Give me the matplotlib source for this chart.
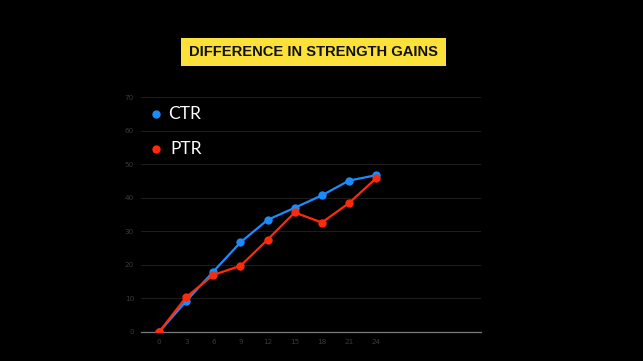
import matplotlib
matplotlib.use('Agg')
import matplotlib.pyplot as plt
from matplotlib.lines import Line2D
from matplotlib.patches import Rectangle

weeks = [0, 3, 6, 9, 12, 15, 18, 21, 24]
ctr = [0, 9.2, 18.0, 26.7, 33.4, 37.0, 40.7, 45.1, 46.7]
ptr = [0, 10.4, 17.0, 19.7, 27.5, 35.6, 32.6, 38.4, 45.8]
series_names = ['CTR', 'PTR']
title = 'DIFFERENCE IN STRENGTH GAINS'

blue = '#1a8cff'
red = '#ff2a0a'

fig = plt.figure(figsize=(6.43, 3.61), dpi=100, facecolor='black')
ax = fig.add_axes([141/643, 1-332/361, (481-141)/643, (332-97)/361])
ax.set_facecolor('black')

ax.plot(weeks, ctr, '-o', color=blue, lw=1.6, ms=5, zorder=3)
ax.plot(weeks, ptr, '-o', color=red, lw=1.6, ms=5, zorder=4)

ax.set_xlim(-2, 35.6)
ax.set_ylim(0, 70)
ax.set_xticks(weeks)
ax.set_yticks(range(0, 71, 10))
ax.yaxis.grid(True, color='#1c1c1c', lw=0.8)
ax.set_axisbelow(True)
for s in ['top', 'right', 'left']:
    ax.spines[s].set_visible(False)
ax.spines['bottom'].set_color('#7a7a7a')
ax.spines['bottom'].set_linewidth(0.9)
ax.tick_params(length=0, labelsize=5.2, colors='#3a3a3a', pad=5)

# legend drawn as dots + labels
fig.add_artist(Line2D([156/643], [1-114/361], marker='o', color=blue, ms=5, ls=''))
fig.add_artist(Line2D([156/643], [1-149/361], marker='o', color=red, ms=5, ls=''))
fig.text(168/643, 1-114/361, series_names[0], color='white', fontsize=12.5,
         family='Lato', va='center', ha='left')
fig.text(170/643, 1-149/361, series_names[1], color='white', fontsize=12.5,
         family='Lato', va='center', ha='left')

# title box
fig.add_artist(Rectangle((181/643, 1-66/361), (446-181)/643, 28/361,
                         transform=fig.transFigure, facecolor='#fde13b', edgecolor='none'))
fig.text(313.5/643, 1-52.5/361, title, color='#111111', fontsize=10.6, fontweight='bold',
         family='Liberation Sans', ha='center', va='center')

fig.savefig('out.png', dpi=100, facecolor='black')
